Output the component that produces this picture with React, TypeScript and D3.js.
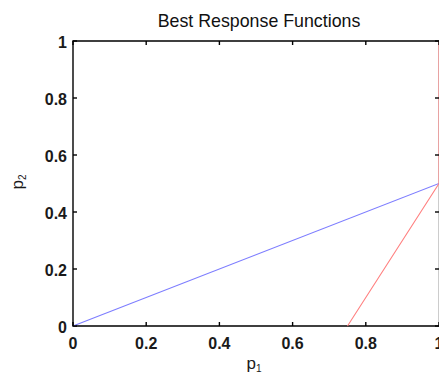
import React from 'react';
import * as d3 from 'd3';

// best response of player 2 to p1 (blue) and player 1 to p2 (red)
const blueP1 = [0, 1];
const blueP2 = [0, 0.5];
const redP1 = [0.75, 1, 1];
const redP2 = [0, 0.5, 1];
const xTicks = [0, 0.2, 0.4, 0.6, 0.8, 1];
const yTicks = [0, 0.2, 0.4, 0.6, 0.8, 1];

export default function App() {
  const W = 439;
  const H = 374;
  const x = d3.scaleLinear().domain([0, 1]).range([73, 439]);
  const y = d3.scaleLinear().domain([0, 1]).range([326, 41]);

  const line = d3.line<[number, number]>().x(d => x(d[0])).y(d => y(d[1]));
  const bluePts = blueP1.map((v, i) => [v, blueP2[i]] as [number, number]);
  const redPts = redP1.map((v, i) => [v, redP2[i]] as [number, number]);

  const tickFmt = (d: number) => (d === 0 || d === 1 ? String(d) : d.toFixed(1));
  const font = 'Liberation Sans, Arial, sans-serif';

  return (
    <svg width={W} height={H} style={{ position: 'absolute', left: 0, top: 0, background: '#fff' }}>
      <text x={259} y={27} textAnchor="middle" fontFamily={font} fontSize={17.8} fill="#111">
        Best Response Functions
      </text>

      {/* box: right edge sits on the window edge, so it shows only faintly */}
      <line x1={x(1)} x2={x(1)} y1={y(0)} y2={y(1)} stroke="#aaa" strokeWidth={1.2} />
      <path
        d={`M${x(1)},${y(1)}H${x(0)}V${y(0)}H${x(1)}`}
        fill="none"
        stroke="#000"
        strokeWidth={1.4}
      />

      <path d={line(bluePts) ?? ''} fill="none" stroke="#7d7dff" strokeWidth={1.1} />
      <path d={line(redPts) ?? ''} fill="none" stroke="#ff8080" strokeWidth={1.1} />

      {xTicks.map(t => (
        <g key={'x' + t}>
          <line x1={x(t)} x2={x(t)} y1={y(0)} y2={y(0) - 4} stroke="#000" strokeWidth={1.4} />
          <line x1={x(t)} x2={x(t)} y1={y(1)} y2={y(1) + 4} stroke="#000" strokeWidth={1.4} />
          <text x={x(t)} y={348.5} textAnchor="middle" fontFamily={font} fontWeight="bold" fontSize={16} fill="#1a1a1a">
            {tickFmt(t)}
          </text>
        </g>
      ))}

      {yTicks.map(t => (
        <g key={'y' + t}>
          <line x1={x(0)} x2={x(0) + 4} y1={y(t)} y2={y(t)} stroke="#000" strokeWidth={1.4} />
          <line x1={x(1)} x2={x(1) - 4} y1={y(t)} y2={y(t)} stroke="#000" strokeWidth={1.4} />
          <text x={67} y={y(t) + 6.5} textAnchor="end" fontFamily={font} fontWeight="bold" fontSize={16} fill="#1a1a1a">
            {tickFmt(t)}
          </text>
        </g>
      ))}

      <text x={254} y={369} textAnchor="middle" fontFamily={font} fontSize={17} fill="#1a1a1a">
        p<tspan fontSize={10} dy={3}>1</tspan>
      </text>
      <text transform={`translate(23, 182) rotate(-90)`} textAnchor="middle" fontFamily={font} fontSize={17} fill="#1a1a1a">
        p<tspan fontSize={10} dy={3}>2</tspan>
      </text>
    </svg>
  );
}
